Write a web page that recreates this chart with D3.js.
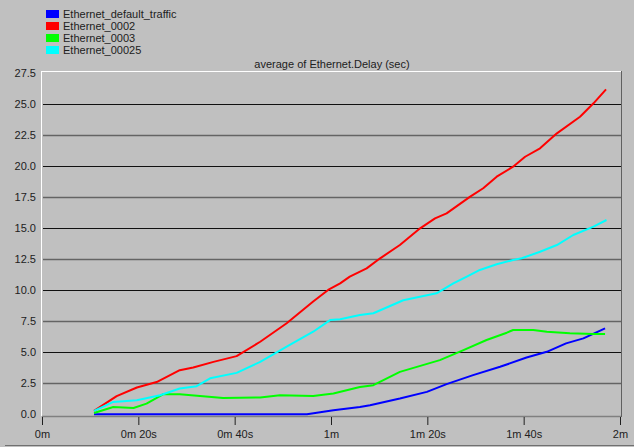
<!DOCTYPE html>
<html>
<head>
<meta charset="utf-8">
<script src="https://cdn.jsdelivr.net/npm/d3@7"></script>
<style>
  html, body { margin: 0; padding: 0; background: #c0c0c0; }
  svg { display: block; font-family: "Liberation Sans", Arial, sans-serif; }
</style>
</head>
<body>
<div id="chart"></div>
<script>
// series names and colours, as in the legend
const seriesNames = ['Ethernet_default_traffic', 'Ethernet_0002', 'Ethernet_0003', 'Ethernet_00025'];
const seriesColors = ['#0000ff', '#ff0000', '#00ff00', '#00ffff'];

// time in seconds, delay in seconds
const defaultTraffic = [
  [10.8, 0.0], [55.0, 0.0], [60.5, 0.32], [66.0, 0.59], [68.1, 0.73], [74.3, 1.27],
  [79.9, 1.81], [84.0, 2.43], [89.5, 3.16], [95.1, 3.83], [100.6, 4.58], [104.8, 5.04],
  [108.8, 5.72], [112.4, 6.12], [116.9, 6.93]
];
const eth0002 = [
  [10.8, 0.27], [15.5, 1.46], [19.7, 2.16], [23.8, 2.6], [28.6, 3.56], [31.4, 3.78],
  [35.6, 4.23], [40.4, 4.69], [45.3, 5.85], [50.8, 7.34], [56.3, 9.09], [59.4, 10.03],
  [61.9, 10.56], [63.9, 11.1], [67.4, 11.77], [70.2, 12.58], [74.3, 13.65], [78.5, 15.0],
  [81.6, 15.8], [84.0, 16.2], [88.9, 17.55], [91.6, 18.23], [94.4, 19.16], [97.8, 19.97],
  [100.3, 20.77], [103.4, 21.45], [106.9, 22.66], [111.7, 24.0], [114.5, 25.08], [117.1, 26.2]
];
const eth0003 = [
  [10.8, 0.1], [14.8, 0.59], [19.0, 0.51], [21.7, 0.86], [25.2, 1.62], [28.6, 1.62],
  [32.8, 1.48], [37.6, 1.32], [45.3, 1.35], [49.4, 1.54], [56.3, 1.48], [60.5, 1.67],
  [66.0, 2.2], [68.8, 2.35], [74.3, 3.42], [82.6, 4.37], [87.5, 5.18], [92.3, 5.99],
  [96.5, 6.58], [97.8, 6.8], [102.0, 6.8], [104.8, 6.66], [109.6, 6.53], [114.5, 6.47],
  [116.9, 6.47]
];
const eth00025 = [
  [10.8, 0.27], [14.8, 1.0], [19.7, 1.13], [24.5, 1.54], [28.6, 2.08], [32.1, 2.27],
  [34.9, 2.9], [40.4, 3.34], [45.3, 4.23], [50.8, 5.45], [56.3, 6.66], [59.8, 7.6],
  [61.9, 7.66], [66.0, 8.0], [68.8, 8.15], [75.0, 9.2], [81.9, 9.76], [85.4, 10.56],
  [88.2, 11.1], [90.9, 11.64], [94.4, 12.1], [97.8, 12.44], [99.6, 12.58], [103.4, 13.11],
  [106.9, 13.65], [110.3, 14.46], [114.5, 15.13], [117.2, 15.67]
];

const xTicks = [0, 20, 40, 60, 80, 100, 120];
const xTickLabels = ['0m', '0m 20s', '0m 40s', '1m', '1m 20s', '1m 40s', '2m'];
const yTicks = [0, 2.5, 5, 7.5, 10, 12.5, 15, 17.5, 20, 22.5, 25, 27.5];
const chartTitle = 'average of Ethernet.Delay (sec)';

const allSeries = [defaultTraffic, eth0002, eth0003, eth00025];

const W = 634, H = 447;
const svg = d3.select('#chart').append('svg')
  .attr('width', W)
  .attr('height', H);

// plot frame edges
const plotLeft = 41, plotRight = 621, plotTop = 71, plotBottom = 416;

const x = d3.scaleLinear().domain([0, 120]).range([42, 620]);
const y = d3.scaleLinear().domain([0, 27.5]).range([414.3, 73.3]);

// horizontal grid lines: black on multiples of 5, grey in between
svg.append('g')
  .selectAll('line')
  .data(yTicks.filter(d => d > 0 && d < 27.5))
  .enter().append('line')
  .attr('x1', 43)
  .attr('x2', plotRight)
  .attr('y1', d => Math.round(y(d)) + 0.5)
  .attr('y2', d => Math.round(y(d)) + 0.5)
  .attr('stroke', d => (d % 5 === 0) ? '#101010' : '#646464')
  .attr('stroke-width', d => (d % 5 === 0) ? 1 : 1.4);

// frame: white top/left, dark right, grey bottom
svg.append('line').attr('x1', plotLeft).attr('x2', plotRight).attr('y1', plotTop + 0.5).attr('y2', plotTop + 0.5)
  .attr('stroke', '#ffffff');
svg.append('line').attr('x1', plotLeft + 0.5).attr('x2', plotLeft + 0.5).attr('y1', plotTop).attr('y2', plotBottom)
  .attr('stroke', '#ffffff');
svg.append('line').attr('x1', plotRight + 0.5).attr('x2', plotRight + 0.5).attr('y1', plotTop).attr('y2', plotBottom + 1)
  .attr('stroke', '#606060');
svg.append('line').attr('x1', plotLeft + 1).attr('x2', plotRight).attr('y1', plotBottom + 0.5).attr('y2', plotBottom + 0.5)
  .attr('stroke', '#808080').attr('stroke-width', 1.5);

// x axis ticks and labels
const xAxis = svg.append('g')
  .attr('transform', `translate(0,${plotBottom + 1})`)
  .call(d3.axisBottom(x).tickValues(xTicks).tickSize(8).tickPadding(5)
    .tickFormat((d, i) => xTickLabels[i]));
xAxis.select('.domain').remove();
xAxis.selectAll('line').attr('stroke', '#202020');
xAxis.selectAll('text').attr('fill', '#202020').style('font-size', '11px')
  .style('font-family', '"Liberation Sans", Arial, sans-serif');

// y axis labels (no visible axis line)
const yAxis = svg.append('g')
  .attr('transform', 'translate(36,0)')
  .call(d3.axisLeft(y).tickValues(yTicks).tickSize(0).tickPadding(0)
    .tickFormat(d3.format('.1f')));
yAxis.select('.domain').remove();
yAxis.selectAll('text').attr('fill', '#202020').style('font-size', '11px')
  .style('font-family', '"Liberation Sans", Arial, sans-serif');

// title
svg.append('text')
  .attr('x', 332)
  .attr('y', 68)
  .attr('text-anchor', 'middle')
  .attr('fill', '#202020')
  .style('font-size', '11px')
  .text(chartTitle);

// lines
const line = d3.line()
  .x(d => x(d[0]))
  .y(d => y(d[1]));

svg.append('g')
  .selectAll('path')
  .data(allSeries)
  .enter().append('path')
  .attr('d', line)
  .attr('fill', 'none')
  .attr('stroke', (d, i) => seriesColors[i])
  .attr('stroke-width', 2)
  .attr('stroke-linejoin', 'round');

// legend
const legend = svg.append('g').attr('transform', 'translate(46,10)');
const rows = legend.selectAll('g')
  .data(seriesNames)
  .enter().append('g')
  .attr('transform', (d, i) => `translate(0,${i * 12})`);
rows.append('rect')
  .attr('width', 13)
  .attr('height', 8)
  .attr('fill', (d, i) => seriesColors[i]);
rows.append('text')
  .attr('x', 17)
  .attr('y', 8)
  .attr('fill', '#202020')
  .style('font-size', '11px')
  .text(d => d);

// bottom edge of the window
svg.append('line').attr('x1', 5).attr('x2', W).attr('y1', 445.5).attr('y2', 445.5)
  .attr('stroke', '#707070');
</script>
</body>
</html>
